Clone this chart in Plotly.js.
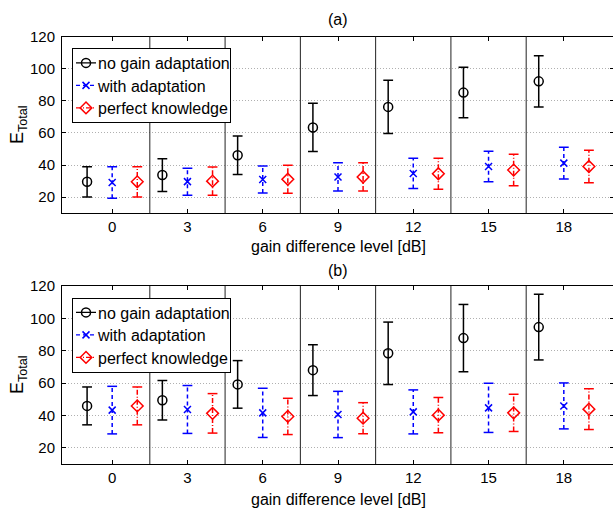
<!DOCTYPE html>
<html>
<head>
<meta charset="utf-8">
<script src="https://cdn.plot.ly/plotly-3.0.1.min.js"></script>
<style>html,body{margin:0;padding:0;overflow:hidden;background:#fff}</style>
</head>
<body>
<div id="chart"></div>
<script>
// ---- data ----
const levels = [0, 3, 6, 9, 12, 15, 18];
const seriesNames = ['no gain adaptation', 'with adaptation', 'perfect knowledge'];

// panel (a)
const aNoGain = [29.6, 33.8, 46.1, 63.4, 76.2, 85.1, 92.1];
const aNoGainErr = [9.4, 10.2, 12.0, 15.0, 16.6, 15.7, 16.0];
const aAdapt = [29.2, 29.7, 31.0, 32.6, 34.8, 39.1, 41.2];
const aAdaptErr = [9.8, 8.4, 8.4, 8.8, 9.4, 9.5, 9.9];
const aPerfect = [29.6, 30.0, 31.2, 32.6, 34.6, 36.9, 39.1];
const aPerfectErr = [9.4, 8.8, 8.7, 8.8, 9.6, 9.8, 10.1];

// panel (b)
const bNoGain = [45.9, 49.4, 59.2, 68.0, 78.4, 87.8, 94.6];
const bNoGainErr = [11.7, 12.2, 14.7, 15.7, 19.3, 20.8, 20.3];
const bAdapt = [43.3, 43.7, 41.6, 40.6, 42.2, 44.7, 45.9];
const bAdaptErr = [14.7, 14.8, 15.2, 14.3, 13.6, 15.2, 14.2];
const bPerfect = [45.9, 41.3, 39.4, 38.3, 40.2, 41.6, 43.9];
const bPerfectErr = [11.7, 12.2, 11.2, 9.6, 10.9, 11.5, 12.6];

const yTicks = [20, 40, 60, 80, 100, 120];

// ---- styles ----
const FONT = 'Liberation Sans, Arial, Helvetica, sans-serif';
const styles = [
  {color: '#000000', dash: 'solid', symbol: 'circle-open', size: 9, offset: -1},
  {color: '#0000ff', dash: '4px,3px', symbol: 'x-thin-open', size: 7, offset: 0},
  {color: '#ff0000', dash: '5px,2px,1px,2px', symbol: 'diamond-open', size: 9, offset: 1}
];

function buildPanel(vals, errs, xa, ya, legendId) {
  const traces = [];
  vals.forEach((v, k) => {
    const st = styles[k];
    const e = errs[k];
    const mx = [], my = [];
    const wx = [], wy = [];
    const cx = [], cy = [];
    levels.forEach((lv, i) => {
      const xp = lv + st.offset;
      mx.push(xp, null); my.push(v[i], null);
      wx.push(xp, xp, null); wy.push(v[i] - e[i], v[i] + e[i], null);
      cx.push(xp, xp); cy.push(v[i] - e[i], v[i] + e[i]);
    });
    traces.push({
      type: 'scatter', mode: 'lines', x: wx, y: wy, xaxis: xa, yaxis: ya,
      line: {color: st.color, width: 1.5, dash: st.dash},
      showlegend: false, hoverinfo: 'skip', legend: legendId
    });
    traces.push({
      type: 'scatter', mode: 'markers', x: cx, y: cy, xaxis: xa, yaxis: ya,
      marker: {symbol: 'line-ew', size: 7, color: st.color, line: {width: 1.5, color: st.color}},
      showlegend: false, hoverinfo: 'skip', legend: legendId
    });
    traces.push({
      type: 'scatter', mode: 'lines+markers', x: mx, y: my, xaxis: xa, yaxis: ya,
      name: seriesNames[k], connectgaps: false,
      line: {color: st.color, width: 1.2, dash: st.dash},
      marker: {symbol: st.symbol, size: st.size, color: st.color, line: {width: 1.5, color: st.color}},
      showlegend: true, legend: legendId
    });
  });
  return traces;
}

const data = []
  .concat(buildPanel([aNoGain, aAdapt, aPerfect], [aNoGainErr, aAdaptErr, aPerfectErr], 'x', 'y', 'legend'))
  .concat(buildPanel([bNoGain, bAdapt, bPerfect], [bNoGainErr, bAdaptErr, bPerfectErr], 'x2', 'y2', 'legend2'));

const W = 614, H = 509, L = 62;
const pxY = p => (H - p) / H;
const pxX = p => (p - L) / (W - L);

function xAxis(anchor) {
  return {
    domain: [0, 1], anchor: anchor, range: [-2, 20], tickvals: levels, ticktext: levels.map(String),
    ticks: 'inside', ticklen: 4, tickwidth: 1, tickcolor: '#000', showline: true, linecolor: '#000',
    linewidth: 1, mirror: 'ticks', showgrid: false, zeroline: false, automargin: false,
    tickfont: {family: FONT, size: 15, color: '#000'}, fixedrange: true
  };
}
function yAxis(anchor, dom) {
  return {
    domain: dom, anchor: anchor, range: [10, 120], tickvals: yTicks,
    ticks: 'inside', ticklen: 4, tickwidth: 1, tickcolor: '#000', showline: true, linecolor: '#000',
    linewidth: 1, mirror: 'ticks', showgrid: true, gridcolor: '#b0b0b0', griddash: '1px,2px', gridwidth: 1,
    zeroline: false, automargin: false, ticklabelstandoff: 3,
    tickfont: {family: FONT, size: 15, color: '#000'}, fixedrange: true
  };
}

const domA = [pxY(213.3), pxY(36.5)];
const domB = [pxY(464), pxY(286)];

const shapes = [];
[['x', 'y'], ['x2', 'y2']].forEach(([xa, ya]) => {
  for (let i = 0; i < levels.length - 1; i++) {
    const xm = (levels[i] + levels[i + 1]) / 2;
    shapes.push({type: 'line', xref: xa, yref: ya + ' domain', x0: xm, x1: xm, y0: 0, y1: 1,
      line: {color: '#222', width: 1}, layer: 'above'});
  }
});

const annFont = {family: FONT, size: 16, color: '#000'};
const annotations = [
  {text: '(a)', xref: 'paper', yref: 'paper', x: 0.5, y: pxY(20), xanchor: 'center', yanchor: 'middle', showarrow: false, font: annFont},
  {text: 'gain difference level [dB]', xref: 'paper', yref: 'paper', x: 0.5, y: pxY(246), xanchor: 'center', yanchor: 'middle', showarrow: false, font: annFont},
  {text: '(b)', xref: 'paper', yref: 'paper', x: 0.5, y: pxY(270), xanchor: 'center', yanchor: 'middle', showarrow: false, font: annFont},
  {text: 'gain difference level [dB]', xref: 'paper', yref: 'paper', x: 0.5, y: pxY(499), xanchor: 'center', yanchor: 'middle', showarrow: false, font: annFont},
  {text: 'E<sub>Total</sub>', xref: 'paper', yref: 'paper', x: pxX(18), y: pxY(125), xanchor: 'center', yanchor: 'middle', textangle: -90, showarrow: false, font: {family: FONT, size: 18, color: '#000'}},
  {text: 'E<sub>Total</sub>', xref: 'paper', yref: 'paper', x: pxX(18), y: pxY(375), xanchor: 'center', yanchor: 'middle', textangle: -90, showarrow: false, font: {family: FONT, size: 18, color: '#000'}}
];

const legendBase = {
  xref: 'paper', yref: 'paper', x: pxX(72), xanchor: 'left', yanchor: 'top',
  bgcolor: '#ffffff', bordercolor: '#000', borderwidth: 1,
  font: {family: FONT, size: 16, color: '#000'}, itemwidth: 30, tracegroupgap: 0
};

const layout = {
  width: W, height: H,
  margin: {l: L, r: 0, t: 0, b: 0, pad: 0},
  paper_bgcolor: '#ffffff', plot_bgcolor: '#ffffff',
  xaxis: xAxis('y'), yaxis: yAxis('x', domA),
  xaxis2: xAxis('y2'), yaxis2: yAxis('x2', domB),
  legend: Object.assign({}, legendBase, {y: pxY(48.3)}),
  legend2: Object.assign({}, legendBase, {y: pxY(297.8)}),
  shapes: shapes, annotations: annotations, showlegend: true
};

// tighten legends (idempotent): shorter sample line, text closer to the sample, tighter rows
function tightenLegends(gd) {
  const TEXTX = 25, TRIM = 20, ROWSQ = 1.3, TOPUP = 3.3;
  gd.querySelectorAll('g.legend, g.legend2').forEach(leg => {
    const items = leg.querySelectorAll('g.traces');
    items.forEach((g, i) => {
      g.querySelectorAll('text').forEach(t => {
        t.setAttribute('x', TEXTX);
        t.querySelectorAll('tspan').forEach(ts => { if (ts.hasAttribute('x')) ts.setAttribute('x', TEXTX); });
      });
      g.querySelectorAll('path').forEach(p => {
        const d = p.getAttribute('d') || '';
        const tr = p.getAttribute('transform') || '';
        if (/^M5,0h30/.test(d) || p.dataset.isLine) { p.dataset.isLine = '1'; p.setAttribute('d', 'M3,0h20'); }
        if (/^translate\(20/.test(tr) || p.dataset.isSym) { p.dataset.isSym = '1'; p.setAttribute('transform', 'translate(13,0)'); }
      });
      if (!g.dataset.orig) g.dataset.orig = g.getAttribute('transform') || '';
      const m = g.dataset.orig.match(/translate\(\s*([-\d.e]+)[ ,]+([-\d.e]+)\s*\)/);
      if (m) g.setAttribute('transform', 'translate(' + m[1] + ',' + (+m[2] - TOPUP - ROWSQ * i) + ')');
    });
    const bg = leg.querySelector('rect.bg');
    if (bg) {
      if (!bg.dataset.ow) { bg.dataset.ow = bg.getAttribute('width'); bg.dataset.oh = bg.getAttribute('height'); }
      bg.setAttribute('width', +bg.dataset.ow - TRIM);
      bg.setAttribute('height', +bg.dataset.oh - 2 * TOPUP - ROWSQ * (items.length - 1));
    }
  });
}

Plotly.newPlot('chart', data, layout, {displayModeBar: false, staticPlot: true}).then(gd => {
  tightenLegends(gd);
  requestAnimationFrame(() => tightenLegends(gd));
  setTimeout(() => tightenLegends(gd), 30);
  setTimeout(() => tightenLegends(gd), 200);
});
</script>
</body>
</html>
